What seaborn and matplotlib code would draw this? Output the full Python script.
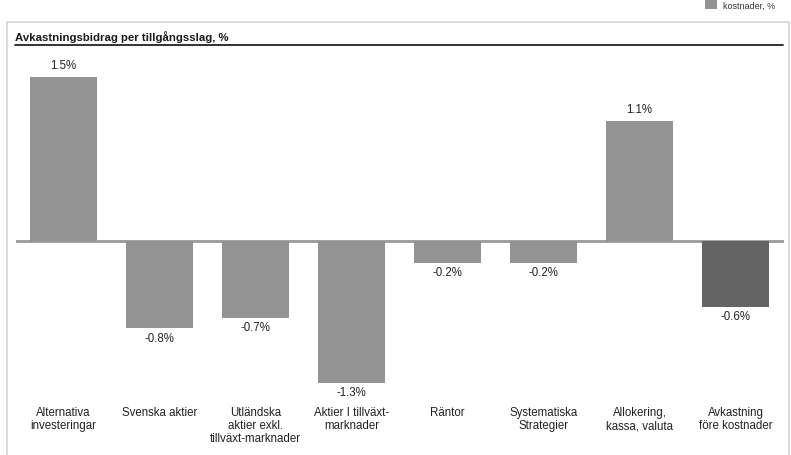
import matplotlib
matplotlib.use("Agg")
import matplotlib.pyplot as plt
from matplotlib.lines import Line2D
from matplotlib.patches import Rectangle
import seaborn as sns
import pandas as pd

categories = [
    "Alternativa\ninvesteringar",
    "Svenska aktier",
    "Utländska\naktier exkl.\ntillväxt-marknader",
    "Aktier I tillväxt-\nmarknader",
    "Räntor",
    "Systematiska\nStrategier",
    "Allokering,\nkassa, valuta",
    "Avkastning\nföre kostnader",
]
values = [1.5, -0.8, -0.7, -1.3, -0.2, -0.2, 1.1, -0.6]
bar_colors = ["#939393"] * 7 + ["#646464"]
title = "Avkastningsbidrag per tillgångsslag, %"
legend_label = "kostnader, %"

sns.set_theme(style="white")
plt.rcParams["font.family"] = ["Liberation Sans", "DejaVu Sans"]

W, H = 791, 455
fig = plt.figure(figsize=(W / 100, H / 100), dpi=100)
fig.patch.set_facecolor("white")

def fx(px):
    return px / W

def fy(py):
    return 1 - py / H

# panel frame
fig.add_artist(Rectangle((fx(7), fy(470)), fx(789) - fx(7), fy(22) - fy(470),
                         transform=fig.transFigure, fill=False,
                         edgecolor="#dadada", lw=1.4))

# panel heading with rule underneath
fig.text(fx(15), fy(37), title, fontsize=8.2, fontweight="bold",
         ha="left", va="center", color="#1a1a1a")
fig.add_artist(Line2D([fx(15), fx(783)], [fy(44.5), fy(44.5)],
                      transform=fig.transFigure, color="#222222", lw=1.3))

# legend swatch in the top right corner
fig.add_artist(Rectangle((fx(705), fy(9)), fx(12) - fx(0), fy(0) - fy(10),
                         transform=fig.transFigure, color="#939393", lw=0))
fig.text(fx(723), fy(6.5), legend_label, fontsize=6.5, ha="left", va="center",
         color="#333333")

y_top_px, y_bot_px, zero_px, px_per_unit = 55, 400, 241, 109.3
ymax = (zero_px - y_top_px) / px_per_unit
ymin = -(y_bot_px - zero_px) / px_per_unit

ax = fig.add_axes([fx(15.5), fy(y_bot_px), fx(783.5) - fx(15.5), fy(y_top_px) - fy(y_bot_px)])
df = pd.DataFrame({"cat": categories, "val": values})
sns.barplot(data=df, x="cat", y="val", hue="cat", palette=bar_colors,
            legend=False, width=0.7, saturation=1, linewidth=0, ax=ax)
ax.set_xlim(-0.5, len(categories) - 0.5)
ax.set_ylim(ymin, ymax)
ax.axhline(0, color="#9a9a9a", lw=2, zorder=0)

for i, v in enumerate(values):
    off = 7.8 if v > 0 else -7.3
    ax.annotate(f"{v:.1f}%", (i, v), xytext=(0, off), textcoords="offset points",
                ha="center", va="center", fontsize=8.3, color="#222222")

ax.set_xlabel("")
ax.set_ylabel("")
ax.set_yticks([])
ax.set_xticks(range(len(categories)))
ax.set_xticklabels(categories, fontsize=8.3, color="#222222", linespacing=1.12)
ax.tick_params(axis="x", length=0, pad=5)
for s in ax.spines.values():
    s.set_visible(False)
ax.set_facecolor("none")

fig.savefig("out.png", dpi=100, facecolor="white")
